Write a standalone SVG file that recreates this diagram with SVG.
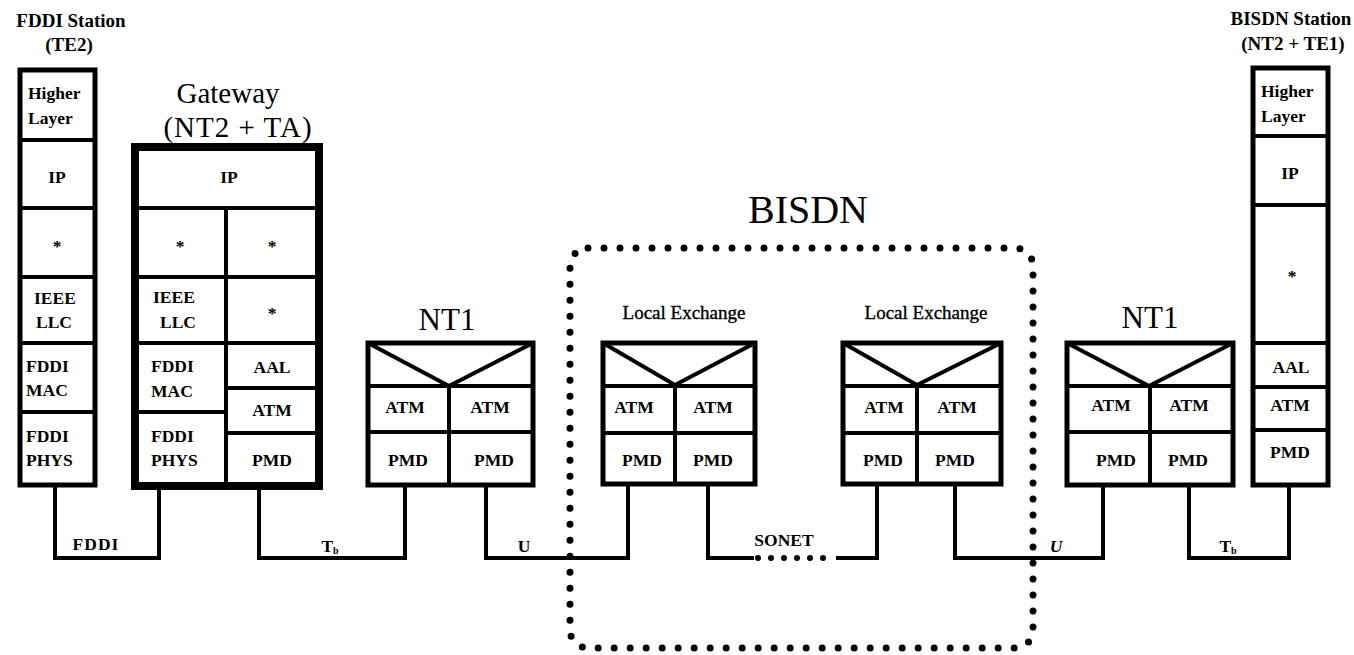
<svg xmlns="http://www.w3.org/2000/svg" width="1354" height="655" viewBox="0 0 1354 655">
<style>
.bx{fill:#fff;stroke:#000;stroke-width:5}
.gw{fill:#fff;stroke:#000;stroke-width:8}
.ln{fill:none;stroke:#000;stroke-width:4}
.cn{fill:none;stroke:#000;stroke-width:4;stroke-linejoin:miter}
.dot{fill:none;stroke:#000;stroke-width:7;stroke-linecap:round;stroke-dasharray:0 16}
.dot2{fill:none;stroke:#000;stroke-width:6;stroke-linecap:round;stroke-dasharray:0 13}
text{font-family:"Liberation Serif","Times New Roman",serif;fill:#000}
.c{font-size:17.5px;font-weight:bold}
.m{text-anchor:middle}
.t{font-size:19px;font-weight:bold}
.le{font-size:19px;text-anchor:middle;stroke:#000;stroke-width:0.35}
.big{font-size:31px;text-anchor:middle}
.gt{font-size:29px;text-anchor:middle}
.lb{font-size:17.5px;font-weight:bold;text-anchor:middle}
</style>
<rect width="1354" height="655" fill="#fff"/>

<g id="bisdn-cloud">
<rect class="dot" x="570" y="248" width="463" height="400" rx="18"/>
<text x="808" y="223" font-size="40" text-anchor="middle">BISDN</text>
</g>

<g id="fddi-station">
<text class="t m" x="71" y="27">FDDI Station</text>
<text class="t m" x="69" y="51">(TE2)</text>
<rect class="bx" x="20" y="70" width="75" height="415"/>
<path class="ln" d="M20 140H95M20 208H95M20 277H95M20 343H95M20 412H95"/>
<text class="c" x="28" y="99">Higher</text>
<text class="c" x="28" y="124">Layer</text>
<text class="c m" x="57" y="183">IP</text>
<text class="c m" x="57" y="252">*</text>
<text class="c" x="34" y="304">IEEE</text>
<text class="c" x="36" y="328">LLC</text>
<text class="c" x="26" y="372">FDDI</text>
<text class="c" x="26" y="396">MAC</text>
<text class="c" x="26" y="442">FDDI</text>
<text class="c" x="26" y="466">PHYS</text>
</g>

<g id="gateway">
<text class="gt" x="228" y="103">Gateway</text>
<text class="gt" x="238" y="137" letter-spacing="1">(NT2 + TA)</text>
<rect class="gw" x="135" y="147" width="184" height="339"/>
<path class="ln" d="M135 208H319M226 208V486M135 277H319M135 343H319M135 412H226M226 388H319M226 433H319"/>
<text class="c m" x="229" y="183">IP</text>
<text class="c m" x="180" y="252">*</text>
<text class="c m" x="272" y="252">*</text>
<text class="c" x="153" y="303">IEEE</text>
<text class="c" x="160" y="328">LLC</text>
<text class="c m" x="272" y="319">*</text>
<text class="c" x="151" y="372">FDDI</text>
<text class="c" x="151" y="397">MAC</text>
<text class="c m" x="272" y="373">AAL</text>
<text class="c m" x="272" y="416">ATM</text>
<text class="c" x="151" y="442">FDDI</text>
<text class="c" x="151" y="466">PHYS</text>
<text class="c m" x="272" y="466">PMD</text>
</g>

<g id="nt1-left">
<text class="big" x="447" y="330">NT1</text>
<rect class="bx" x="368" y="343" width="165" height="142"/>
<path class="ln" d="M368 343L449 386L533 343M368 386H533M368 432H533M449 386V485"/>
<text class="c m" x="405" y="413">ATM</text>
<text class="c m" x="490" y="413">ATM</text>
<text class="c m" x="408" y="466">PMD</text>
<text class="c m" x="494" y="466">PMD</text>
</g>

<g id="local-exchange-1">
<text class="le" x="684" y="319">Local Exchange</text>
<rect class="bx" x="603" y="343" width="152" height="141"/>
<path class="ln" d="M603 343L675 385L755 343M603 386H755M603 433H755M675 386V484"/>
<text class="c m" x="634" y="413">ATM</text>
<text class="c m" x="713" y="413">ATM</text>
<text class="c m" x="642" y="466">PMD</text>
<text class="c m" x="713" y="466">PMD</text>
</g>

<g id="local-exchange-2">
<text class="le" x="926" y="319">Local Exchange</text>
<rect class="bx" x="843" y="343" width="158" height="141"/>
<path class="ln" d="M843 343L917 385L1001 343M843 386H1001M843 433H1001M917 386V484"/>
<text class="c m" x="884" y="413">ATM</text>
<text class="c m" x="957" y="413">ATM</text>
<text class="c m" x="883" y="466">PMD</text>
<text class="c m" x="955" y="466">PMD</text>
</g>

<g id="nt1-right">
<text class="big" x="1150" y="328">NT1</text>
<rect class="bx" x="1067" y="343" width="166" height="142"/>
<path class="ln" d="M1067 343L1149 386L1233 343M1067 386H1233M1067 432H1233M1150 386V485"/>
<text class="c m" x="1111" y="411">ATM</text>
<text class="c m" x="1189" y="411">ATM</text>
<text class="c m" x="1116" y="466">PMD</text>
<text class="c m" x="1188" y="466">PMD</text>
</g>

<g id="bisdn-station">
<text class="t m" x="1291" y="25">BISDN Station</text>
<text class="t m" x="1293" y="50">(NT2 + TE1)</text>
<rect class="bx" x="1253" y="68" width="75" height="417"/>
<path class="ln" d="M1253 136H1328M1253 205H1328M1253 343H1328M1253 387H1328M1253 430H1328"/>
<text class="c" x="1261" y="97">Higher</text>
<text class="c" x="1261" y="122">Layer</text>
<text class="c m" x="1290" y="179">IP</text>
<text class="c m" x="1292" y="282">*</text>
<text class="c m" x="1291" y="373">AAL</text>
<text class="c m" x="1290" y="411">ATM</text>
<text class="c m" x="1290" y="458">PMD</text>
</g>

<g id="connectors">
<path class="cn" d="M55 486V558H159V490"/>
<path class="cn" d="M259 490V558H405V486"/>
<path class="cn" d="M486 486V558H628V485"/>
<path class="cn" d="M708 485V558H754"/>
<path class="dot2" d="M758 558H834"/>
<path class="cn" d="M836 558H877V485"/>
<path class="cn" d="M955 485V558H1103V486"/>
<path class="cn" d="M1189 486V558H1289V486"/>
<text class="lb" x="96" y="550" letter-spacing="1">FDDI</text>
<text class="lb" x="330" y="552">T<tspan font-size="10" dy="2">b</tspan></text>
<text class="lb" x="524" y="552">U</text>
<text class="lb" x="784" y="546">SONET</text>
<text class="lb" x="1056" y="552" font-style="italic">U</text>
<text class="lb" x="1228" y="552">T<tspan font-size="10" dy="2">b</tspan></text>
</g>
</svg>
